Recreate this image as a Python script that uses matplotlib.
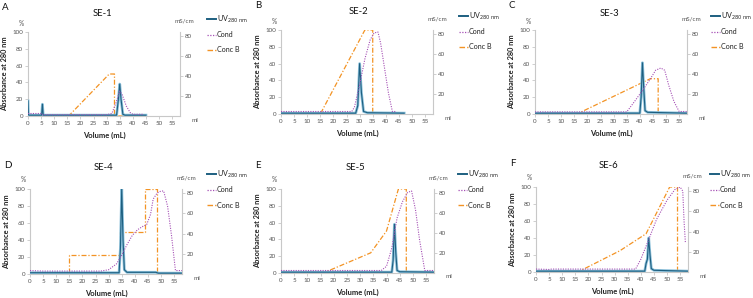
import matplotlib
matplotlib.use("Agg")
import matplotlib.pyplot as plt
from matplotlib.lines import Line2D

plt.rcParams['font.family'] = ['Lato', 'DejaVu Sans']

W, H = 753, 298

# ---------------- data ----------------
titles = ["SE-1", "SE-2", "SE-3", "SE-4", "SE-5", "SE-6"]
letters = ["A", "B", "C", "D", "E", "F"]

# UV 280 nm (%)
se1_uv_x = [0, 0.15, 0.4, 5.2, 5.5, 5.8, 33.8, 34.5, 35, 35.5, 36.2, 37, 45]
se1_uv_y = [18, 1.5, 1, 1, 14, 1, 1, 20, 38, 20, 2, 1, 1]
se2_uv_x = [0, 28.5, 29.3, 30, 30.7, 31.5, 33, 47]
se2_uv_y = [1, 1, 10, 60, 25, 3, 1.5, 1]
se3_uv_x = [0, 40, 40.5, 41, 41.5, 42, 43, 58]
se3_uv_y = [1, 1, 20, 61, 30, 4, 2, 1]
se4_uv_x = [0, 34, 34.5, 35, 35.5, 36, 37, 48, 49, 58]
se4_uv_y = [1.5, 1.5, 30, 100, 40, 5, 2, 2, 1, 1]
se5_uv_x = [0, 42, 42.5, 43, 43.5, 44, 45, 58]
se5_uv_y = [1, 1, 15, 58, 25, 3, 1.5, 1]
se6_uv_x = [0, 41.5, 42, 42.5, 43, 43.5, 44, 45, 58]
se6_uv_y = [1, 1, 10, 15, 40, 20, 4, 2, 1]

# Conductivity (mS/cm)
se1_cond_x = [0, 5, 5.5, 30, 32, 33.5, 35, 36, 37.5, 39, 40, 44]
se1_cond_y = [2.5, 2.5, 1.3, 1.3, 2.5, 12.6, 25, 21, 10, 3.4, 1.7, 1.7]
se2_cond_x = [0, 27, 28, 30, 32, 34, 35.5, 37, 38, 39.5, 41, 42.5, 44]
se2_cond_y = [2.5, 2.5, 6.7, 29, 55, 74, 81, 82, 71, 46, 21, 2.5, 2.5]
se3_cond_x = [0, 35, 38, 41, 44, 46, 48, 49.5, 51, 53, 55, 58]
se3_cond_y = [2.1, 2.1, 12.6, 23.5, 35, 43.7, 46, 43.7, 29, 12.6, 2.5, 2.5]
se4_cond_x = [0, 5, 27, 30, 33, 35, 37, 39, 41, 43, 44.5, 46, 47, 48.5, 50, 51, 52.5, 54, 55.5, 58]
se4_cond_y = [3.4, 2.9, 2.9, 4.2, 10, 18.5, 29, 38, 43.7, 47, 48.7, 59, 74, 80, 82, 82, 67, 38, 3.4, 3.4]
se5_cond_x = [0, 38, 40, 42, 44, 46, 48, 49.5, 51, 52.5, 54.5, 58]
se5_cond_y = [2.5, 2.5, 6.7, 25, 55, 71, 80.6, 82, 63, 33.6, 2.5, 2.5]
se6_cond_x = [0, 5, 6, 38, 40, 43, 46, 50, 53, 55, 56, 56.5, 57]
se6_cond_y = [2.9, 2.5, 2.9, 2.9, 12.6, 32, 52, 71, 81.5, 84, 80, 50, 29]

# Conc B (%)
se1_conc_x = [0, 15.5, 31, 33, 33, 44]
se1_conc_y = [0, 0, 50, 50, 0, 0]
se2_conc_x = [0, 15, 32, 35, 35, 44]
se2_conc_y = [0, 0, 100, 100, 0, 0]
se3_conc_x = [0, 16, 44, 47, 47, 58]
se3_conc_y = [0, 0, 42, 42, 0, 0]
se4_conc_x = [0, 15, 15, 34.5, 34.5, 44, 44, 48.5, 48.5, 58]
se4_conc_y = [0, 0, 22, 22, 50, 50, 100, 100, 0, 0]
se5_conc_x = [0, 16, 34, 40, 44.5, 47.5, 47.5, 58]
se5_conc_y = [0, 0, 24, 50, 100, 100, 0, 0]
se6_conc_x = [0, 16, 32, 42, 51, 54, 54, 58]
se6_conc_y = [0, 0, 25, 45, 100, 100, 0, 0]

uv_x = [se1_uv_x, se2_uv_x, se3_uv_x, se4_uv_x, se5_uv_x, se6_uv_x]
uv_y = [se1_uv_y, se2_uv_y, se3_uv_y, se4_uv_y, se5_uv_y, se6_uv_y]
cond_x = [se1_cond_x, se2_cond_x, se3_cond_x, se4_cond_x, se5_cond_x, se6_cond_x]
cond_y = [se1_cond_y, se2_cond_y, se3_cond_y, se4_cond_y, se5_cond_y, se6_cond_y]
conc_x = [se1_conc_x, se2_conc_x, se3_conc_x, se4_conc_x, se5_conc_x, se6_conc_x]
conc_y = [se1_conc_y, se2_conc_y, se3_conc_y, se4_conc_y, se5_conc_y, se6_conc_y]

x_ticks = [0, 5, 10, 15, 20, 25, 30, 35, 40, 45, 50, 55]
left_ticks = [0, 20, 40, 60, 80, 100]
right_ticks = [20, 40, 60, 80]

# ---------------- layout (pixels) ----------------
# (left, right, top, bottom) of each axes box
boxes = [(28, 180, 32, 116), (281, 433, 30, 114), (535, 687, 30, 114),
         (30, 182, 189, 274), (281, 434, 189, 273), (536, 688, 187, 272)]
title_pos = [(102, 14), (358, 12), (609, 13), (103, 167), (355, 167), (608, 166)]
legend_pos = [(207, 19), (459, 16), (711, 16), (207, 174), (458, 174), (710, 174)]
legend_gap = 15.5

UV_DARK = "#1d5f80"
UV_LIGHT = "#8cc0da"
COND = "#a54fb5"
CONC = "#f39324"
AX = "#c8c8c8"
TXT = "#555555"
DASHDOT = (0, (4, 1.5, 1, 1.5))

fig = plt.figure(figsize=(W / 100, H / 100), dpi=100)


def fx(x):
    return x / W


def fy(y):
    return 1 - y / H


for i in range(6):
    l, r, t, b = boxes[i]
    ax = fig.add_axes([fx(l), fy(b), (r - l) / W, (b - t) / H])
    ax.set_xlim(0, 58)
    ax.set_ylim(0, 100)
    ax2 = ax.twinx()
    ax2.set_ylim(0, 84)

    ax.plot(uv_x[i], uv_y[i], color=UV_LIGHT, lw=2.0, zorder=3)
    ax.plot(uv_x[i], uv_y[i], color=UV_DARK, lw=0.8, zorder=4)
    ax.plot(conc_x[i], conc_y[i], color=CONC, lw=0.9, ls=DASHDOT, zorder=2)
    ax2.plot(cond_x[i], cond_y[i], color=COND, lw=0.8, ls=(0, (1, 1.2)), zorder=2)

    for a in (ax, ax2):
        a.spines['top'].set_visible(False)
        for s in ('left', 'right', 'bottom'):
            a.spines[s].set_color(AX)
            a.spines[s].set_linewidth(0.8)
        a.tick_params(colors=AX, labelcolor=TXT, labelsize=4.5, length=2, width=0.6, pad=1.5)
    ax.spines['right'].set_visible(False)
    ax2.spines['left'].set_visible(False)
    ax2.spines['bottom'].set_visible(False)
    ax.set_xticks(x_ticks)
    ax.set_yticks(left_ticks)
    ax2.set_yticks(right_ticks)

    ax.set_xlabel("Volume (mL)", fontsize=5.5, fontweight='bold', labelpad=4, color="#222222")
    ax.set_ylabel("Absorbance at 280 nm", fontsize=5.3, fontweight='bold', labelpad=3, color="#222222")

    # unit labels
    fig.text(fx(l - 7), fy(t - 9), "%", fontsize=4.8, color=TXT, ha='center', va='center')
    fig.text(fx(r + 4), fy(t - 11), "mS/cm", fontsize=4.5, color=TXT, ha='center', va='center')
    fig.text(fx(r + 15), fy(b + 4), "ml", fontsize=4.5, color=TXT, ha='center', va='center')

    # title and letter
    tx, ty = title_pos[i]
    fig.text(fx(tx), fy(ty), titles[i], fontsize=6.8, ha='center', va='center', color="#111111")
    fig.text(fx(l - 26), fy(t - 24), letters[i], fontsize=7, ha='left', va='center', color="#111111")

    # legend
    lx, ly = legend_pos[i]
    items = [("UV$_{280\\ \\mathrm{nm}}$", UV_DARK, '-', 1.4),
             ("Cond", COND, (0, (1, 1.2)), 0.9),
             ("Conc B", CONC, DASHDOT, 1.0)]
    for k, (lab, col, ls, lw) in enumerate(items):
        yy = ly + k * legend_gap
        fig.add_artist(Line2D([fx(lx), fx(lx + 9)], [fy(yy), fy(yy)], color=col,
                              ls=ls, lw=lw, transform=fig.transFigure))
        fig.text(fx(lx + 10), fy(yy), lab, fontsize=5.1, ha='left', va='center', color="#222222")

fig.savefig("out.png", dpi=100)
